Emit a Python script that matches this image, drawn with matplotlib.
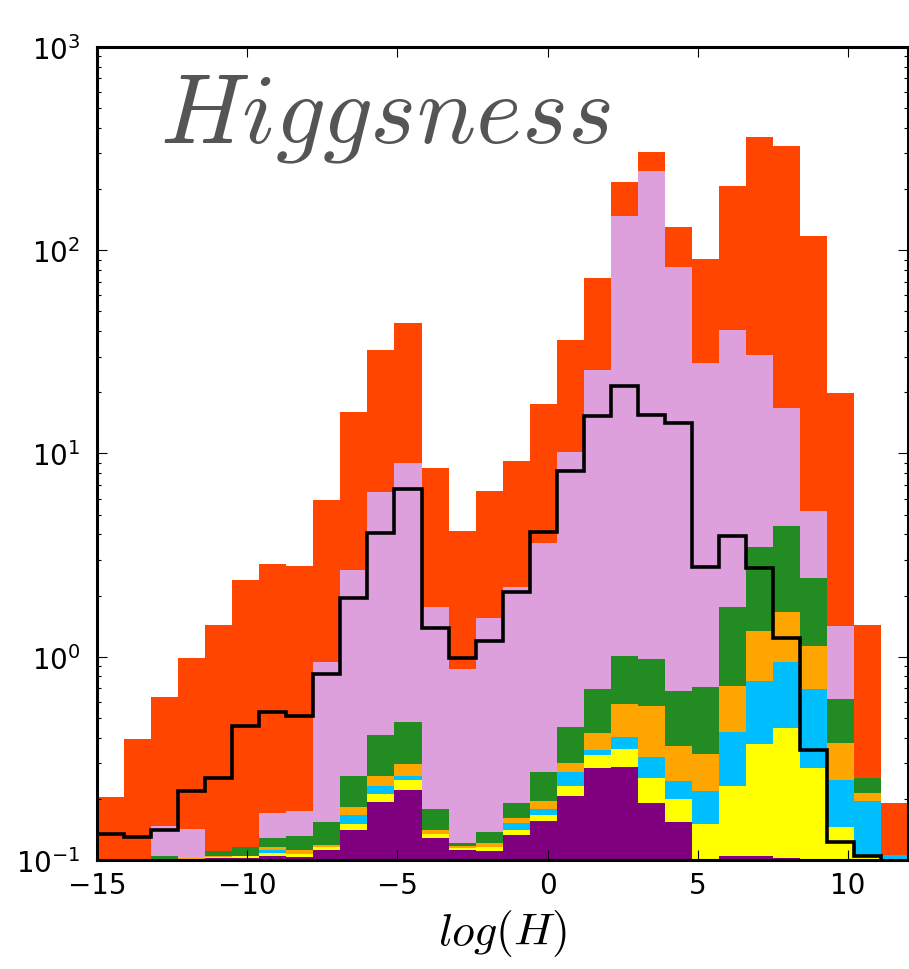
import numpy as np
import matplotlib
matplotlib.use("Agg")
from matplotlib import pyplot as plt

# log(H) binning: 30 bins from -15 to 12
edges = np.linspace(-15, 12, 31)
centers = 0.5 * (edges[:-1] + edges[1:])

# per-bin event counts for each background component (stacked bottom -> top)
purple = [0, 0, 0, 0, 0.102, 0.102, 0.105, 0.103, 0.112, 0.140, 0.193, 0.222, 0.128, 0.112, 0.111,
          0.133, 0.155, 0.207, 0.283, 0.288, 0.190, 0.153, 0, 0.105, 0.105, 0.102, 0, 0, 0, 0]
yellow = [0, 0, 0, 0.100, 0.002, 0.0023, 0.0029, 0.0041, 0.0039, 0.0102, 0.017, 0.0258, 0.0059, 0.0029, 0.0044,
          0.0073, 0.0115, 0.0233, 0.0458, 0.0639, 0.0622, 0.0462, 0.150, 0.126, 0.267, 0.342, 0.283, 0.145, 0.104, 0]
skyblue = [0, 0, 0, 0, 0, 0, 0.0045, 0, 0, 0.0167, 0.022, 0.0124, 0, 0, 0,
           0.0111, 0.0116, 0.0396, 0.0203, 0.050, 0.0678, 0.0461, 0.069, 0.194, 0.390, 0.494, 0.411, 0.103, 0.0918, 0.106]
orange = [0, 0, 0, 0.002, 0.0005, 0, 0.0031, 0.0044, 0.0032, 0.0151, 0.028, 0.0368, 0.0068, 0.0027, 0.0053,
          0.0088, 0.0177, 0.030, 0.0727, 0.184, 0.254, 0.117, 0.113, 0.291, 0.571, 0.727, 0.439, 0.129, 0.0179, 0]
green = [0, 0, 0.105, 0, 0.0067, 0.0116, 0.0124, 0.0197, 0.0338, 0.0765, 0.152, 0.182, 0.0371, 0.0032, 0.017,
         0.0297, 0.0761, 0.153, 0.273, 0.420, 0.400, 0.318, 0.375, 1.04, 2.15, 2.72, 1.30, 0.243, 0.0386, 0]
plum = [0, 0, 0.042, 0.040, 0, 0, 0.0424, 0.042, 0.786, 2.41, 6.03, 8.50, 1.585, 0.750, 1.413,
        2.006, 3.343, 9.69, 25.06, 146.4, 244.4, 82.3, 27.1, 38.6, 27.0, 12.3, 2.80, 0.792, 0, 0]
orangered = [0.203, 0.394, 0.485, 0.844, 1.322, 2.27, 2.69, 2.61, 4.97, 13.3, 26.0, 34.9, 6.72, 3.27, 4.97,
             6.96, 13.9, 26.0, 47.3, 70.0, 60.0, 47.6, 63.1, 167, 330, 310, 112, 18.4, 1.18, 0.085]

# signal histogram, drawn as an outline on top
signal = [0.134, 0.129, 0.141, 0.218, 0.252, 0.458, 0.533, 0.513, 0.822, 1.94, 4.06, 6.69, 1.38, 0.986, 1.20,
          2.09, 4.09, 8.17, 15.3, 21.6, 15.4, 14.1, 2.75, 3.94, 2.72, 1.23, 0.349, 0.123, 0.105, 0]

layers = [purple, yellow, skyblue, orange, green, plum, orangered]
colors = ['purple', 'yellow', 'deepskyblue', 'orange', 'forestgreen', 'plum', 'orangered']

plt.rcParams['mathtext.fontset'] = 'cm'
plt.rcParams['axes.linewidth'] = 2.2
plt.rcParams['xtick.direction'] = 'in'
plt.rcParams['ytick.direction'] = 'in'
plt.rcParams['xtick.top'] = True
plt.rcParams['ytick.right'] = True
plt.rcParams['xtick.major.size'] = 7
plt.rcParams['ytick.major.size'] = 7
plt.rcParams['xtick.minor.size'] = 3
plt.rcParams['ytick.minor.size'] = 3
plt.rcParams['xtick.major.width'] = 0.8
plt.rcParams['ytick.major.width'] = 0.8
plt.rcParams['ytick.minor.width'] = 0.8
plt.rcParams['xtick.labelsize'] = 20
plt.rcParams['ytick.labelsize'] = 20

fig = plt.figure(figsize=(9.09, 9.70), dpi=100)
ax = fig.add_axes([0.1067, 0.1124, 0.8925, 0.8381])

ax.hist([centers] * len(layers), bins=edges, weights=layers, stacked=True,
        histtype='stepfilled', color=colors, linewidth=0, log=True)
ax.hist(centers, bins=edges, weights=signal, histtype='step', color='k', linewidth=2.6, log=True)

ax.set_yscale('log')
ax.set_xlim(-15, 12)
ax.set_ylim(0.1, 1000)
ax.set_xticks([-15, -10, -5, 0, 5, 10])
ax.tick_params(axis='x', pad=8)
ax.tick_params(axis='y', pad=12)

ax.set_xlabel(r'$log(H)$', fontsize=33, labelpad=6)
ax.text(0.078, 0.883, r'$Higgsness$', transform=ax.transAxes, fontsize=71,
        color='#555555', ha='left', va='baseline')

fig.savefig('out.png', dpi=100)
